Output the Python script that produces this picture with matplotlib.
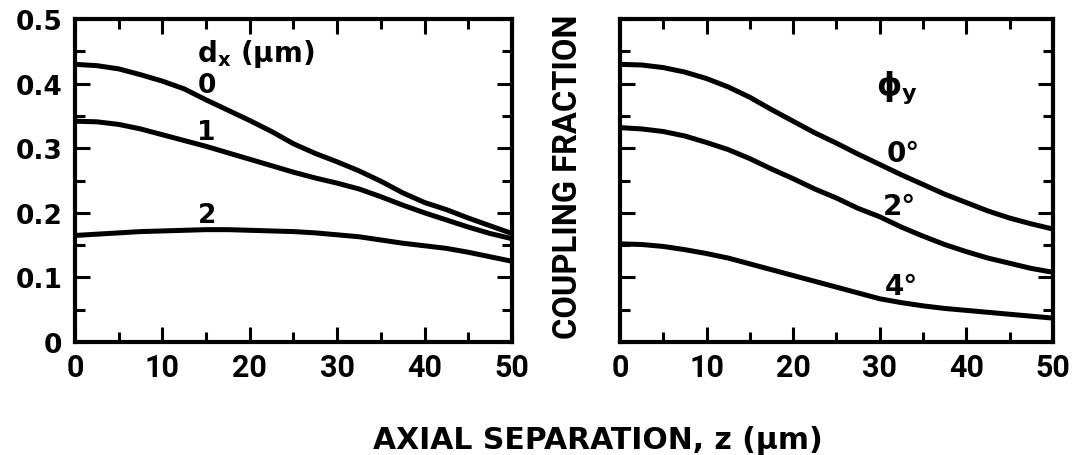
import numpy as np
import matplotlib
matplotlib.use("Agg")
import matplotlib.pyplot as plt
from matplotlib.ticker import MultipleLocator

# axial separation z (um)
z = [0, 2.5, 5, 7.5, 10, 12.5, 15, 17.5, 20, 22.5, 25,
     27.5, 30, 32.5, 35, 37.5, 40, 42.5, 45, 47.5, 50]

# coupling fraction vs lateral offset dx (um)
dx_0 = [0.430, 0.428, 0.423, 0.414, 0.404, 0.392, 0.375, 0.359, 0.343, 0.326, 0.307,
        0.292, 0.279, 0.265, 0.249, 0.231, 0.216, 0.205, 0.192, 0.180, 0.168]
dx_1 = [0.342, 0.341, 0.337, 0.330, 0.321, 0.312, 0.303, 0.293, 0.283, 0.273, 0.263,
        0.254, 0.246, 0.237, 0.225, 0.212, 0.200, 0.189, 0.178, 0.168, 0.160]
dx_2 = [0.165, 0.167, 0.169, 0.171, 0.172, 0.173, 0.174, 0.174, 0.173, 0.172, 0.171,
        0.169, 0.166, 0.163, 0.158, 0.153, 0.149, 0.145, 0.139, 0.132, 0.125]

# coupling fraction vs tilt angle phi_y
phi_0 = [0.430, 0.429, 0.425, 0.418, 0.408, 0.395, 0.379, 0.360, 0.342, 0.324, 0.308,
         0.291, 0.275, 0.259, 0.244, 0.229, 0.216, 0.203, 0.192, 0.183, 0.175]
phi_2 = [0.332, 0.330, 0.326, 0.319, 0.309, 0.298, 0.284, 0.268, 0.253, 0.237, 0.223,
         0.207, 0.194, 0.178, 0.164, 0.151, 0.140, 0.130, 0.122, 0.114, 0.108]
phi_4 = [0.152, 0.151, 0.148, 0.143, 0.137, 0.130, 0.121, 0.112, 0.103, 0.094, 0.085,
         0.076, 0.067, 0.061, 0.056, 0.052, 0.049, 0.046, 0.043, 0.040, 0.037]

y_ticks = [0, 0.1, 0.2, 0.3, 0.4, 0.5]
y_ticklabels = ["0", "0.1", "0.2", "0.3", "0.4", "0.5"]
x_ticks = [0, 10, 20, 30, 40, 50]

narrow = ["Roboto", "DejaVu Sans"]
plt.rcParams["font.family"] = ["DejaVu Sans"]
plt.rcParams["font.weight"] = "bold"
plt.rcParams["mathtext.fontset"] = "dejavusans"

fig = plt.figure(figsize=(10.82, 4.56), dpi=100)
ax1 = fig.add_axes([0.0693, 0.2478, 0.4039, 0.708])
ax2 = fig.add_axes([0.573, 0.2478, 0.400, 0.708])

lw = 3.6
for ax in (ax1, ax2):
    ax.set_xlim(0, 50)
    ax.set_ylim(0, 0.5)
    ax.xaxis.set_major_locator(MultipleLocator(10))
    ax.xaxis.set_minor_locator(MultipleLocator(5))
    ax.yaxis.set_major_locator(MultipleLocator(0.1))
    ax.yaxis.set_minor_locator(MultipleLocator(0.05))
    ax.tick_params(which="both", direction="in", top=True, right=True, width=2.2)
    ax.tick_params(which="major", length=11)
    ax.tick_params(which="minor", length=7)
    for s in ax.spines.values():
        s.set_linewidth(3)
    ax.set_xticks(x_ticks)
    ax.set_xticklabels([str(v) for v in x_ticks], family=narrow,
                       fontsize=22, fontweight="bold")
    ax.tick_params(axis="x", pad=7)

ax1.set_yticks(y_ticks)
ax1.set_yticklabels(y_ticklabels, fontsize=19, fontweight="bold")
ax1.tick_params(axis="y", pad=9)
ax2.set_yticklabels([])

# left panel: lateral offset
ax1.plot(z, dx_0, color="black", lw=lw, solid_capstyle="butt")
ax1.plot(z, dx_1, color="black", lw=lw, solid_capstyle="butt")
ax1.plot(z, dx_2, color="black", lw=lw, solid_capstyle="butt")
ax1.text(14.0, 0.447, r"d$_\mathbf{x}$ (μm)", fontsize=20, fontweight="bold", va="center")
ax1.text(15.1, 0.398, "0", fontsize=19, fontweight="bold", ha="center", va="center")
ax1.text(15.0, 0.326, "1", fontsize=19, fontweight="bold", ha="center", va="center")
ax1.text(15.1, 0.196, "2", fontsize=19, fontweight="bold", ha="center", va="center")

# right panel: angular tilt
ax2.plot(z, phi_0, color="black", lw=lw, solid_capstyle="butt")
ax2.plot(z, phi_2, color="black", lw=lw, solid_capstyle="butt")
ax2.plot(z, phi_4, color="black", lw=lw, solid_capstyle="butt")
ax2.text(32.0, 0.395, r"ϕ$_\mathbf{y}$", fontsize=23, fontweight="bold", ha="center", va="center")
ax2.text(32.7, 0.292, "0°", fontsize=20, fontweight="bold", ha="center", va="center")
ax2.text(32.3, 0.211, "2°", fontsize=20, fontweight="bold", ha="center", va="center")
ax2.text(32.5, 0.087, "4°", fontsize=20, fontweight="bold", ha="center", va="center")

fig.text(0.525, 0.612, "COUPLING FRACTION", rotation=90, ha="center", va="center",
         family=narrow, fontsize=23.5, fontweight="bold")
fig.text(0.553, 0.035, "AXIAL SEPARATION, z (μm)", ha="center", va="center",
         fontsize=21.5, fontweight="bold")

fig.savefig("out.png", dpi=100)
